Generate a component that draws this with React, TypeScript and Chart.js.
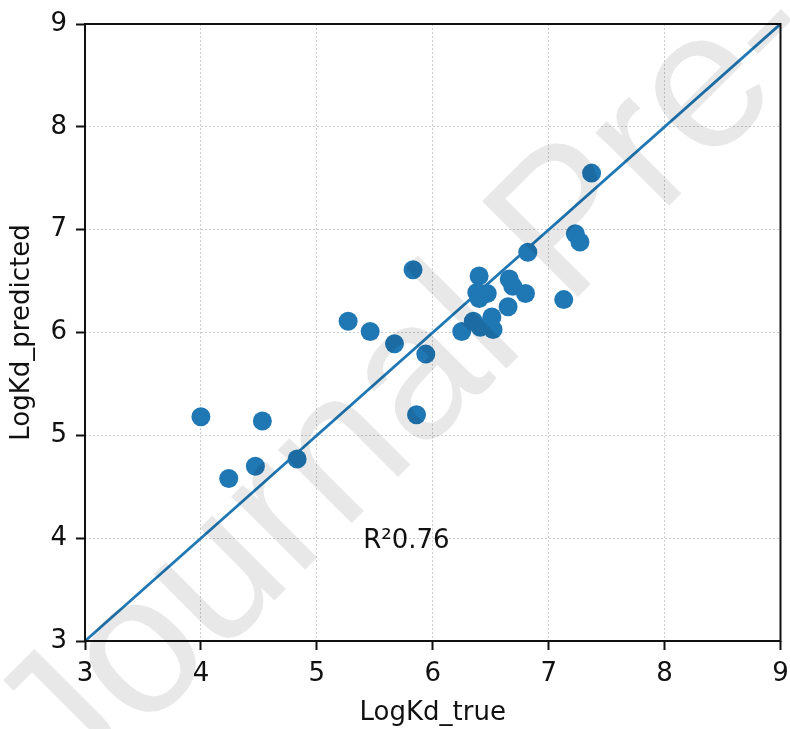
import { useEffect, useRef } from "react";
import { Chart, registerables } from "chart.js";

Chart.register(...registerables);

// Measured vs. predicted binding affinities (log Kd)
const logKdTrue = [
  4.0, 4.24, 4.47, 4.53, 4.83, 5.27, 5.46, 5.67, 5.83, 5.94, 5.86, 6.25, 6.35, 6.41, 6.4,
  6.38, 6.47, 6.4, 6.51, 6.52, 6.65, 6.66, 6.69, 6.8, 6.82, 7.13, 7.23, 7.27, 7.37,
];
const logKdPredicted = [
  5.18, 4.58, 4.7, 5.14, 4.77, 6.11, 6.01, 5.89, 6.61, 5.79, 5.2, 6.01, 6.11, 6.05, 6.55,
  6.39, 6.38, 6.33, 6.15, 6.03, 6.25, 6.52, 6.45, 6.38, 6.78, 6.32, 6.96, 6.88, 7.55,
];

// y = x reference line end points
const identityLine = [3, 9];
const axisRange = [3, 9];

const xTitle = "LogKd_true";
const yTitle = "LogKd_predicted";
const r2Label = "R²0.76";
const r2Position = [5.4, 3.9];
const watermarkText = "Journal Pre-proof";

const BLUE = "#1f77b4";
const FONT = '"DejaVu Sans", sans-serif';

const overlayPlugin = {
  id: "overlay",
  afterDatasetsDraw(chart: any) {
    const { ctx, chartArea: a, scales } = chart;
    const x = scales.x;
    const y = scales.y;
    ctx.save();
    ctx.font = `26px ${FONT}`;
    ctx.fillStyle = "#111";
    ctx.textAlign = "left";
    ctx.textBaseline = "alphabetic";
    ctx.fillText(r2Label, x.getPixelForValue(r2Position[0]), y.getPixelForValue(r2Position[1]));
    ctx.strokeStyle = "#111";
    ctx.lineWidth = 2;
    ctx.strokeRect(a.left, a.top, a.right - a.left, a.bottom - a.top);
    ctx.restore();
  },
  afterDraw(chart: any) {
    const { ctx } = chart;
    ctx.save();
    ctx.translate(71, 804);
    ctx.rotate(-Math.PI / 4);
    ctx.font = '197px "Liberation Sans", Arial, sans-serif';
    ctx.fillStyle = "rgba(0,0,0,0.09)";
    ctx.textAlign = "left";
    ctx.textBaseline = "alphabetic";
    ctx.fillText(watermarkText, 0, 0);
    ctx.restore();
  },
};

function axis(
  title: string,
  titlePadding: any,
  fitKey: "width" | "height",
  fitSize: number,
  edgePadding: [number, number]
) {
  return {
    type: "linear",
    min: axisRange[0],
    max: axisRange[1],
    ticks: {
      stepSize: 1,
      color: "#111",
      padding: 9,
      font: { family: FONT, size: 26 },
    },
    grid: {
      color: "#cccccc",
      lineWidth: 1,
      drawTicks: true,
      tickLength: 9,
      tickColor: "#111",
      tickWidth: 2,
      tickBorderDash: [],
    },
    border: { display: false, dash: [2, 2] },
    title: {
      display: true,
      text: title,
      color: "#111",
      padding: titlePadding,
      font: { family: FONT, size: 26 },
    },
    afterFit(scale: any) {
      scale[fitKey] = fitSize;
      if (fitKey === "height") {
        scale.paddingLeft = edgePadding[0];
        scale.paddingRight = edgePadding[1];
      } else {
        scale.paddingTop = edgePadding[0];
        scale.paddingBottom = edgePadding[1];
      }
    },
  };
}

export default function App() {
  const canvasRef = useRef<HTMLCanvasElement | null>(null);

  useEffect(() => {
    if (!canvasRef.current) return;
    const points = logKdTrue.map((v, i) => ({ x: v, y: logKdPredicted[i] }));
    const chart = new Chart(canvasRef.current, {
      type: "scatter",
      data: {
        datasets: [
          {
            type: "line",
            data: identityLine.map((v) => ({ x: v, y: v })),
            borderColor: BLUE,
            borderWidth: 2.8,
            pointRadius: 0,
            fill: false,
            order: 0,
          } as any,
          {
            type: "scatter",
            data: points,
            backgroundColor: BLUE,
            borderWidth: 0,
            pointRadius: 9.5,
            order: 1,
          },
        ],
      },
      options: {
        animation: false,
        responsive: true,
        maintainAspectRatio: false,
        devicePixelRatio: 1,
        events: [],
        layout: { padding: { top: 24, right: 9, bottom: 0, left: 0 } },
        plugins: { legend: { display: false }, tooltip: { enabled: false } },
        scales: {
          x: axis(xTitle, { top: 0, bottom: 0 }, "height", 88, [0, 9]) as any,
          y: axis(yTitle, { top: 7, bottom: 0 }, "width", 85, [24, 0]) as any,
        },
      },
      plugins: [overlayPlugin],
    });
    return () => chart.destroy();
  }, []);

  return (
    <div style={{ position: "absolute", left: 0, top: 0, width: 790, height: 729, background: "#fff" }}>
      <canvas ref={canvasRef} />
    </div>
  );
}
